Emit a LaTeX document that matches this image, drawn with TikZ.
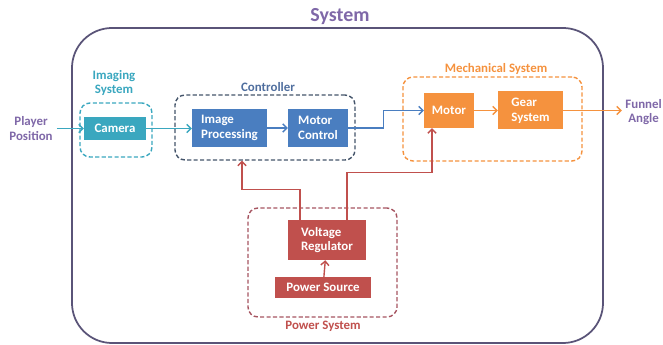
\documentclass[tikz,border=0pt]{standalone}
\usepackage{fontspec}
\setmainfont{Carlito}
\usetikzlibrary{arrows.meta}
\definecolor{sysPurple}{HTML}{7F68A8}
\definecolor{sysLine}{HTML}{5A5478}
\definecolor{camTeal}{HTML}{3AA7BF}
\definecolor{ctrlBlue}{HTML}{4A7EC0}
\definecolor{ctrlDash}{HTML}{44546A}
\definecolor{ctrlText}{HTML}{4F6E9E}
\definecolor{mechOrange}{HTML}{F5923E}
\definecolor{pwrRed}{HTML}{C0504D}
\definecolor{pwrDash}{HTML}{A65561}
\tikzset{
  every node/.style={font=\fontsize{11}{12.5}\selectfont\bfseries},
  block/.style={fill=#1, text=white, align=left, inner sep=2pt},
  group/.style={draw=#1, line width=1.2pt, dash pattern=on 3.5pt off 2pt, rounded corners=0.3cm},
  grouplabel/.style={text=#1, align=center},
  flow/.style={draw=#1, line width=1.2pt, -{Straight Barb[length=3.5pt,width=7pt]}}
}
\begin{document}
\begin{tikzpicture}[x=0.03cm, y=-0.03cm]
				\useasboundingbox (0,0) rectangle (663,345);

				% outer system
				\node[draw=sysLine, line width=1.5pt, rounded corners=1.2cm, minimum width=15.93cm, minimum height=9.45cm] (sys) at (337.5, 185.5) {};
				\node[text=sysPurple, font=\fontsize{17}{19}\selectfont\bfseries] (systitle) at (340, 17) {System};

				% groups
				\node[group=camTeal, minimum width=2.16cm, minimum height=1.62cm] (imgsys) at (116, 130) {};
				\node[grouplabel=camTeal] (imgsyslabel) at (114, 83) {Imaging\\System};

				\node[group=ctrlDash, minimum width=5.4cm, minimum height=1.95cm] (ctrl) at (265, 127.5) {};
				\node[grouplabel=ctrlText] (ctrllabel) at (268, 87) {Controller};

				\node[group=mechOrange, minimum width=5.37cm, minimum height=2.52cm] (mech) at (492.5, 119) {};
				\node[grouplabel=mechOrange] (mechlabel) at (496, 69) {Mechanical System};

				\node[group=pwrDash, minimum width=4.47cm, minimum height=3.27cm] (pwr) at (322.5, 262.5) {};
				\node[grouplabel=pwrRed] (pwrlabel) at (323, 326) {Power System};

				% blocks
				\node[block=camTeal, minimum width=1.86cm, minimum height=0.69cm] (camera) at (115, 128.5) {Camera};
				\node[block=ctrlBlue, minimum width=2.25cm, minimum height=1.14cm] (imgproc) at (229.5, 128) {Image\\Processing};
				\node[block=ctrlBlue, minimum width=1.8cm, minimum height=1.14cm] (motorctrl) at (318, 128) {Motor\\Control};
				\node[block=mechOrange, minimum width=1.5cm, minimum height=1.05cm] (motor) at (449, 110.5) {Motor};
				\node[block=mechOrange, minimum width=1.95cm, minimum height=1.14cm] (gear) at (530.5, 110.5) {Gear\\System};
				\node[block=pwrRed, minimum width=2.34cm, minimum height=1.2cm] (regulator) at (327, 240) {Voltage\\Regulator};
				\node[block=pwrRed, minimum width=2.88cm, minimum height=0.63cm] (source) at (323, 287.5) {Power Source};

				% inputs and outputs
				\node[grouplabel=sysPurple] (player) at (31, 128.5) {Player\\Position};
				\node[grouplabel=sysPurple, anchor=east, inner sep=0pt] (funnel) at (662, 112) {Funnel\\Angle};

				% connectors
				\draw[flow=camTeal] (player) -- (camera);
				\draw[flow=camTeal] (camera.east) -- (camera.east -| imgproc.west);
				\draw[flow=ctrlBlue] (imgproc) -- (motorctrl);
				\draw[flow=ctrlBlue] (motorctrl.east) -- ++(35,0) |- (motor.west);
				\draw[flow=mechOrange] (motor) -- (gear);
				\draw[flow=mechOrange] (gear.east) -- ([xshift=-0.1cm]gear.east -| funnel.west);
				\draw[flow=pwrRed] (source) -- (regulator);
				\draw[flow=pwrRed] ([xshift=-0.81cm]regulator.north) -- ++(0,-30) -| ([xshift=-0.69cm]ctrl.south);
				\draw[flow=pwrRed] ([xshift=0.6cm]regulator.north) -- ++(0,-47) -| ([xshift=-0.51cm]motor.south);
			\end{tikzpicture}
\end{document}
